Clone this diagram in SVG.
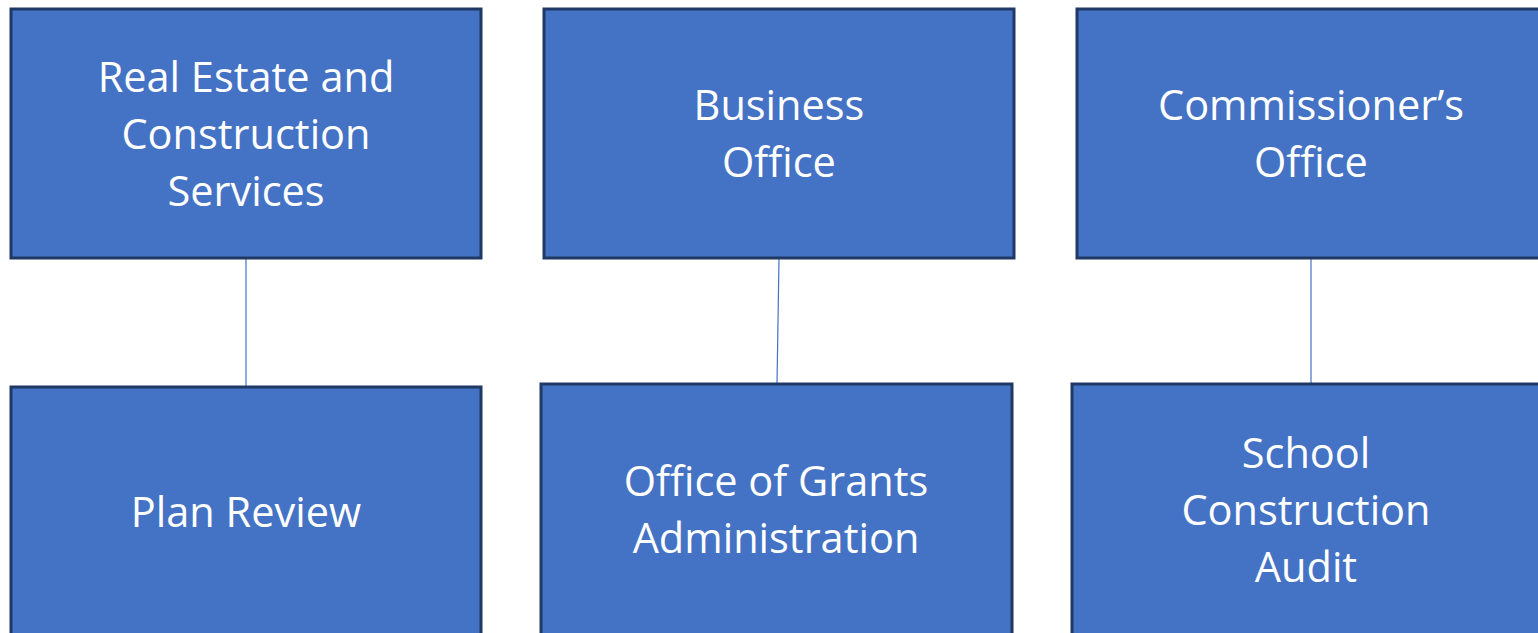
<svg xmlns="http://www.w3.org/2000/svg" width="1538" height="633" viewBox="0 0 1538 633">
<style>
.box{fill:#4472C4;stroke:#203864;stroke-width:3}
.t{fill:#fff;font-family:"Open Sans","Liberation Sans",sans-serif;font-size:41.5px;text-anchor:middle}
.c{stroke:#4472C4;stroke-width:1.2;fill:none}
</style>
<rect width="1538" height="633" fill="#fff"/>
<g id="connectors">
<line class="c" x1="246" y1="259" x2="246" y2="387"/>
<line class="c" x1="779" y1="259" x2="777" y2="384"/>
<line class="c" x1="1311" y1="259" x2="1311" y2="384"/>
</g>
<g id="n1"><rect class="box" x="11" y="9" width="470" height="249"/>
<text class="t"><tspan x="246" y="92">Real Estate and</tspan><tspan x="246" y="149">Construction</tspan><tspan x="246" y="206">Services</tspan></text></g>
<g id="n2"><rect class="box" x="544" y="9" width="470" height="249"/>
<text class="t"><tspan x="779" y="120">Business</tspan><tspan x="779" y="177">Office</tspan></text></g>
<g id="n3"><rect class="box" x="1077" y="9" width="470" height="249"/>
<text class="t"><tspan x="1311" y="120">Commissioner’s</tspan><tspan x="1311" y="177">Office</tspan></text></g>
<g id="n4"><rect class="box" x="11" y="387" width="470" height="260"/>
<text class="t" x="246" y="527">Plan Review</text></g>
<g id="n5"><rect class="box" x="541" y="384" width="471" height="260"/>
<text class="t"><tspan x="776" y="496">Office of Grants</tspan><tspan x="776" y="553">Administration</tspan></text></g>
<g id="n6"><rect class="box" x="1072" y="384" width="480" height="260"/>
<text class="t"><tspan x="1306" y="468">School</tspan><tspan x="1306" y="525">Construction</tspan><tspan x="1306" y="582">Audit</tspan></text></g>
</svg>
